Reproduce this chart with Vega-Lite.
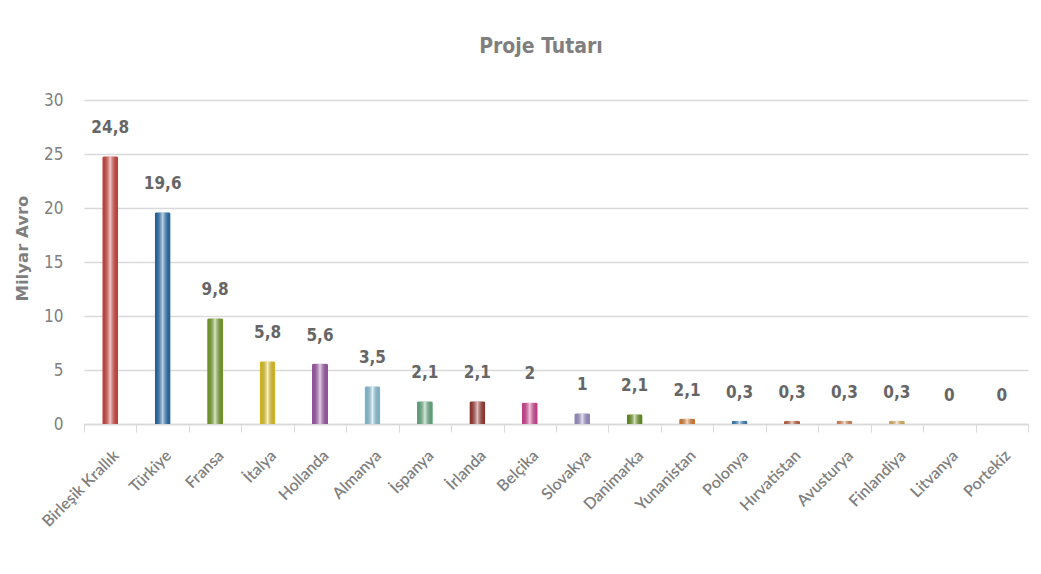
{
  "$schema": "https://vega.github.io/schema/vega-lite/v6.json",
  "width": 944,
  "height": 324,
  "autosize": {"type": "none"},
  "padding": {"left": 84, "top": 100, "right": 13, "bottom": 150},
  "background": "white",
  "title": {
    "text": "Proje Tutarı",
    "fontSize": 21,
    "font": "DejaVu Sans Condensed, Liberation Sans Narrow, sans-serif",
    "fontWeight": "bold",
    "color": "#7f7f7f",
    "anchor": "middle",
    "dx": -15,
    "offset": 34
  },
  "config": {
    "view": {"stroke": null},
    "font": "DejaVu Sans Condensed, Liberation Sans Narrow, sans-serif"
  },
  "data": {
    "values": [
      {"ulke": "Birleşik Krallık", "deger": 24.8, "etiket": "24,8"},
      {"ulke": "Türkiye", "deger": 19.6, "etiket": "19,6"},
      {"ulke": "Fransa", "deger": 9.8, "etiket": "9,8"},
      {"ulke": "İtalya", "deger": 5.8, "etiket": "5,8"},
      {"ulke": "Hollanda", "deger": 5.6, "etiket": "5,6"},
      {"ulke": "Almanya", "deger": 3.5, "etiket": "3,5"},
      {"ulke": "İspanya", "deger": 2.1, "etiket": "2,1"},
      {"ulke": "İrlanda", "deger": 2.1, "etiket": "2,1"},
      {"ulke": "Belçika", "deger": 2, "etiket": "2"},
      {"ulke": "Slovakya", "deger": 1, "etiket": "1"},
      {"ulke": "Danimarka", "deger": 0.9, "etiket": "2,1"},
      {"ulke": "Yunanistan", "deger": 0.5, "etiket": "2,1"},
      {"ulke": "Polonya", "deger": 0.3, "etiket": "0,3"},
      {"ulke": "Hırvatistan", "deger": 0.3, "etiket": "0,3"},
      {"ulke": "Avusturya", "deger": 0.3, "etiket": "0,3"},
      {"ulke": "Finlandiya", "deger": 0.3, "etiket": "0,3"},
      {"ulke": "Litvanya", "deger": 0, "etiket": "0"},
      {"ulke": "Portekiz", "deger": 0, "etiket": "0"}
    ]
  },
  "encoding": {
    "x": {
      "field": "ulke",
      "type": "nominal",
      "sort": null,
      "scale": {"paddingInner": 0, "paddingOuter": 0},
      "axis": {
        "title": null,
        "labelAngle": -45,
        "labelFontSize": 16,
        "labelFont": "Lato, sans-serif",
        "labelFontWeight": 600,
        "labelColor": "#7f7f7f",
        "labelPadding": 15,
        "tickBand": "extent",
        "tickColor": "#d9d9d9",
        "tickSize": 8,
        "domainColor": "#d9d9d9",
        "domainWidth": 1.5,
        "grid": false
      }
    },
    "y": {
      "field": "deger",
      "type": "quantitative",
      "scale": {"domain": [0, 30]},
      "axis": {
        "title": "Milyar Avro",
        "titleFont": "DejaVu Sans, sans-serif",
        "titleFontSize": 16.5,
        "titleFontWeight": "bold",
        "titleColor": "#7f7f7f",
        "titlePadding": 13,
        "titleY": 148,
        "titleAnchor": "middle",
        "values": [0, 5, 10, 15, 20, 25, 30],
        "labelFontSize": 17,
        "labelColor": "#7f7f7f",
        "labelPadding": 21,
        "domain": false,
        "ticks": false,
        "grid": true,
        "gridColor": "#d9d9d9",
        "gridWidth": 1.5
      }
    }
  },
  "layer": [
    {
      "mark": {"type": "bar", "size": 16, "cornerRadiusEnd": 2},
      "encoding": {
        "color": {
          "field": "ulke",
          "type": "nominal",
          "legend": null,
          "scale": {
            "domain": ["Birleşik Krallık", "Türkiye", "Fransa", "İtalya", "Hollanda", "Almanya", "İspanya", "İrlanda", "Belçika", "Slovakya", "Danimarka", "Yunanistan", "Polonya", "Hırvatistan", "Avusturya", "Finlandiya", "Litvanya", "Portekiz"],
            "range": ["#e8463f", "#1f72bd", "#7fae2a", "#fad820", "#ad5cb8", "#94d8f2", "#6fbd8c", "#a8362f", "#e8459f", "#aa9ddb", "#6c9e1c", "#f28a36", "#3a88c4", "#d26a48", "#f3925a", "#f7c56a", "#cccccc", "#cccccc"]
          }
        }
      }
    },
    {
      "mark": {
        "type": "bar",
        "size": 16,
        "cornerRadiusEnd": 2,
        "fill": {
          "gradient": "linear",
          "x1": 0, "y1": 0, "x2": 1, "y2": 0,
          "stops": [
            {"offset": 0, "color": "rgba(0,0,0,0.12)"},
            {"offset": 0.5, "color": "rgba(255,255,255,0.7)"},
            {"offset": 1, "color": "rgba(0,0,0,0.12)"}
          ]
        }
      },
      "encoding": {}
    },
    {
      "mark": {"type": "text", "baseline": "middle", "dy": -28, "fontSize": 17, "fontWeight": "bold", "color": "#666666"},
      "encoding": {"text": {"field": "etiket"}}
    }
  ]
}
